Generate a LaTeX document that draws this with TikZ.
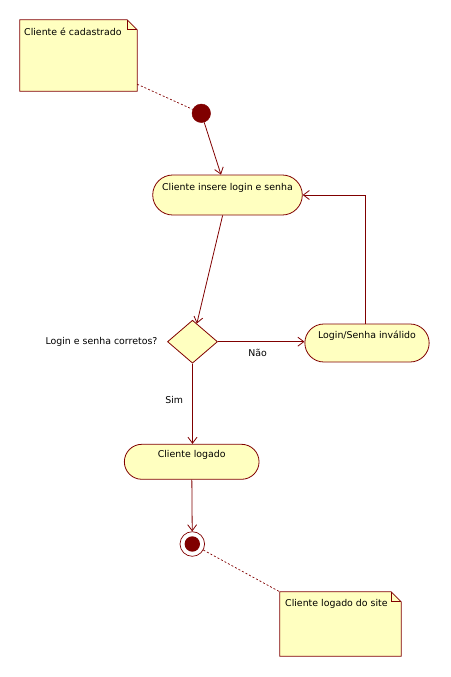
\documentclass[tikz,border=0pt]{standalone}
\usepackage{fontspec}
\setmainfont{DejaVu Sans}
\usetikzlibrary{shapes.geometric,shapes.misc,arrows.meta}
\definecolor{umlline}{RGB}{128,0,0}
\definecolor{umlfill}{RGB}{255,255,192}
\definecolor{umldot}{RGB}{128,0,0}
\tikzset{
  txt/.style={font=\fontsize{9.4}{11}\selectfont, text=black, inner sep=0pt},
  action/.style={rounded rectangle, draw=umlline, fill=umlfill, line width=0.8pt,
    inner sep=0pt, text height=7pt, text depth=16pt, txt},
  decision/.style={diamond, draw=umlline, fill=umlfill, line width=0.8pt,
    inner sep=0pt, minimum width=50pt, minimum height=43pt},
  startnode/.style={circle, fill=umldot, draw=umlline, inner sep=0pt, minimum size=18.6pt},
  endnode/.style={circle, draw=umlline, fill=white, line width=0.7pt, inner sep=0pt,
    minimum size=24.6pt,
    path picture={\fill[umldot] (path picture bounding box.center) circle (7.7pt);}},
  notebox/.style={inner sep=0pt},
  noteline/.style={draw=umlline, fill=umlfill, line width=0.8pt},
  flow/.style={draw=umlline, line width=0.8pt, -{Straight Barb[length=6pt,width=9pt]}},
  anchorline/.style={draw=umlline, line width=0.7pt, dash pattern=on 2pt off 2pt},
}
\begin{document}
\begin{tikzpicture}[x=1pt, y=-1pt]
\useasboundingbox (0,0) rectangle (450,677);

% top note
\node[notebox, minimum width=117pt, minimum height=71pt] (n1) at (78.5,55.5) {};
\path[noteline] (n1.south west) -- (n1.north west) -- ([xshift=-10pt]n1.north east)
  -- ([yshift=-10pt]n1.north east) -- (n1.south east) -- cycle;
\draw[umlline, line width=0.8pt] ([xshift=-10pt]n1.north east) |- ([yshift=-10pt]n1.north east);
\node[txt, anchor=west] (n1t) at (24,31.5) {Cliente é cadastrado};

% bottom note
\node[notebox, minimum width=121pt, minimum height=64pt] (n2) at (340.5,624) {};
\path[noteline] (n2.south west) -- (n2.north west) -- ([xshift=-10pt]n2.north east)
  -- ([yshift=-10pt]n2.north east) -- (n2.south east) -- cycle;
\draw[umlline, line width=0.8pt] ([xshift=-10pt]n2.north east) |- ([yshift=-10pt]n2.north east);
\node[txt, anchor=west] (n2t) at (285,604) {Cliente logado do site};

% nodes
\node[startnode] (start) at (201.3,113.3) {};
\node[action, minimum width=149.6pt, minimum height=40pt] (a1) at (227.5,195) {Cliente insere login e senha};
\node[decision] (d) at (192.5,341.7) {};
\node[txt, anchor=east] (dl) at ([xshift=-9.5pt]d.west) {Login e senha corretos?};
\node[action, minimum width=124.3pt, minimum height=38pt] (a2) at (367,343) {Login/Senha inválido};
\node[action, minimum width=134.7pt, minimum height=35pt] (a3) at (191.7,461.8) {Cliente logado};
\node[endnode] (end) at (192.3,544) {};

% connectors
\draw[anchorline] ([yshift=7pt]n1.south east) -- (start);
\draw[flow] (start) -- (a1);
\draw[flow] (a1) -- (d);
\draw[flow] (d.east) -- (d.east -| a2.west) node[txt, pos=0.46, below=7pt] (nao) {Não};
\draw[flow] ([xshift=-2pt]a2.north) |- (a1.east);
\draw[flow] (d.south) -- (d.south |- a3.north) node[txt, pos=0.45, left=9pt] (sim) {Sim};
\draw[flow] (a3) -- (end);
\draw[anchorline] (end) -- (n2.north west);
\end{tikzpicture}
\end{document}
